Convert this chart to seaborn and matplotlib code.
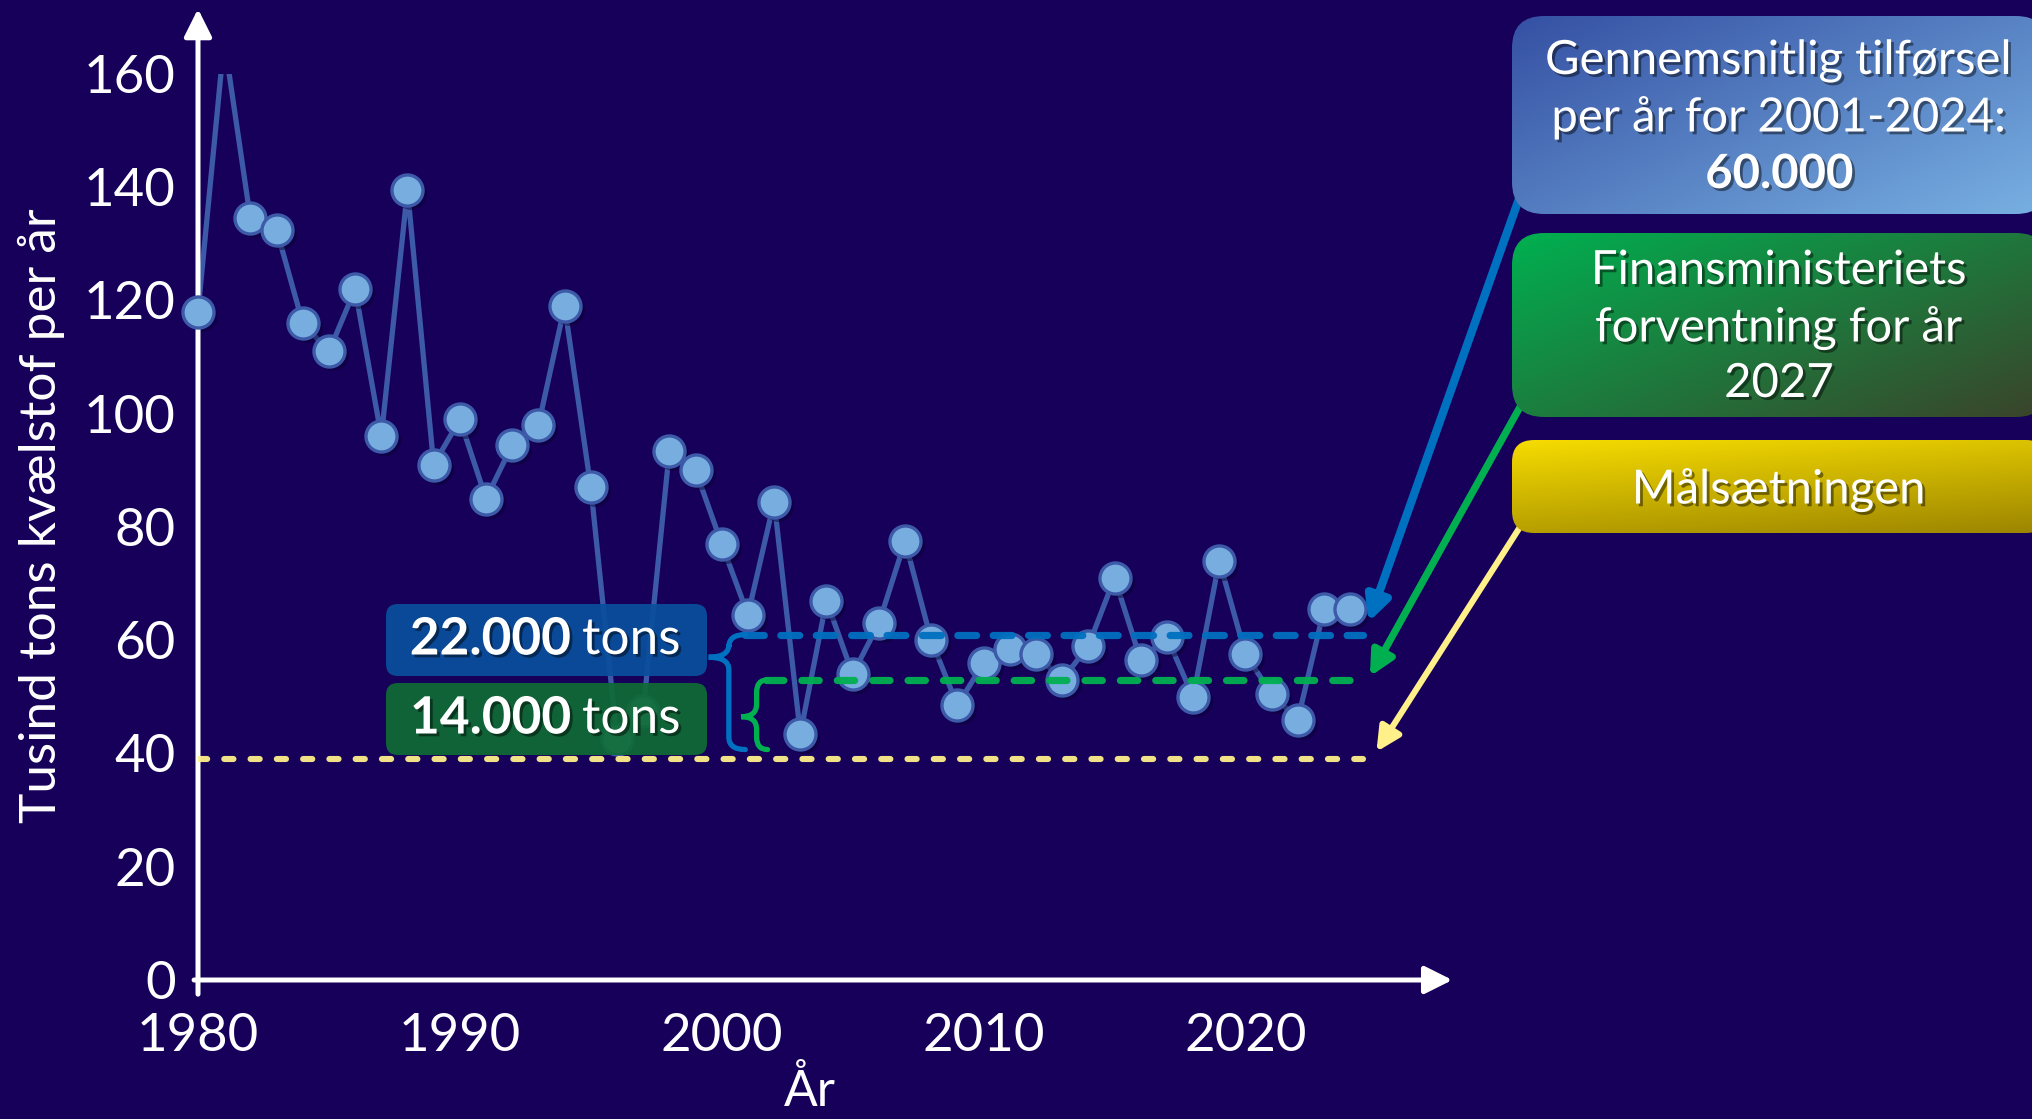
import matplotlib

matplotlib.use("Agg")

import matplotlib.patheffects as pe
import matplotlib.pyplot as plt
import numpy as np
import pandas as pd
import seaborn as sns
from matplotlib import transforms
from matplotlib.patches import FancyBboxPatch, PathPatch
from matplotlib.path import Path

# --- data ---
years = list(range(1980, 2025))
nitrogen = [
    118, 166, 134.5, 132.5, 116, 111, 122, 96, 139.5, 91,
    99, 85, 94.5, 98, 119, 87, 42.5, 47.5, 93.5, 90,
    77, 64.5, 84.5, 43.5, 67, 54, 63, 77.5, 60, 48.5,
    56, 58.5, 57.5, 53, 59, 71, 56.5, 60.5, 50, 74,
    57.5, 50.5, 46, 65.5, 65.5,
]
y_ticks = [0, 20, 40, 60, 80, 100, 120, 140, 160]
x_ticks = [1980, 1990, 2000, 2010, 2020]

level_names = ["mean", "finans", "target"]
level_values = [61, 53, 39]
gap_labels = ["22.000", "14.000"]

box_lines = [
    ["Gennemsnitlig tilførsel", "per år for 2001-2024:", "60.000"],
    ["Finansministeriets", "forventning for år", "2027"],
    ["Målsætningen"],
]

BG = "#16005a"
LINE = "#3d5aa8"
FILL = "#78addf"
BLUE = "#0070c0"
GREEN = "#00b050"
YELLOW = "#fff08a"
W, H = 2033, 1119

sns.set_theme(style="white")
plt.rcParams["font.family"] = ["Lato", "DejaVu Sans"]

df = pd.DataFrame({"year": years, "value": nitrogen})
ymax = y_ticks[-1]

fig = plt.figure(figsize=(W / 100, H / 100), dpi=100, facecolor=BG)
ax = fig.add_axes([198 / W, 1 - 980 / H, (1455 - 198) / W, (980 - 74) / H])
ax.set_facecolor(BG)

# series line (clipped at the top like the original) + markers with a soft shadow
sns.lineplot(data=df, x="year", y="value", color=LINE, lw=3.8, ax=ax, zorder=3)
shown = df[df["value"] <= ymax]
shadow = transforms.offset_copy(ax.transData, fig=fig, x=4, y=-4, units="dots")
sns.scatterplot(data=shown, x="year", y="value", s=500, color="#0a0030", alpha=0.45,
                linewidth=0, transform=shadow, clip_on=False, ax=ax, zorder=3)
sns.scatterplot(data=shown, x="year", y="value", s=500, color=FILL, edgecolor=LINE,
                linewidth=2.4, clip_on=False, ax=ax, zorder=4)

ax.set_xlim(1980, 2028)
ax.set_ylim(0, ymax)
ax.set_xticks(x_ticks)
ax.set_yticks(y_ticks)
for s in ax.spines.values():
    s.set_visible(False)
ax.tick_params(axis="both", colors="white", labelcolor="white", labelsize=38, width=3.6)
ax.tick_params(axis="x", length=13, pad=11)
ax.tick_params(axis="y", length=13, pad=3)

# axis arrows
arrow_kw = dict(arrowstyle="-|>", lw=3.6, color="white", mutation_scale=42, shrinkA=0, shrinkB=0)
ax.annotate("", xy=(2027.9, 0), xytext=(1979.85, 0), arrowprops=arrow_kw, annotation_clip=False)
ax.annotate("", xy=(1980, 171.5), xytext=(1980, -2.5), arrowprops=arrow_kw, annotation_clip=False)

ax.set_xlabel("År", fontsize=36, color="white")
ax.xaxis.set_label_coords(0.487, -0.097)
ax.set_ylabel("Tusind tons kvælstof per år", fontsize=37, color="white")
ax.yaxis.set_label_coords(-0.106, 0.513)

# reference lines
level_colors = [BLUE, GREEN, YELLOW]
level_start = [2000.9, 2001.7, 1980]
level_width = [5.2, 5.2, 4.4]
level_dash = [(0, (2.6, 2.3)), (0, (2.4, 2.5)), (0, (1.5, 2.8))]
for val, col, x0, lw, ls in zip(level_values, level_colors, level_start, level_width, level_dash):
    ax.plot([x0, 2024.5], [val, val], color=col, lw=lw, ls=ls, dash_capstyle="round",
            zorder=5, alpha=0.95)


def brace(x0, top, bottom, tip, x_tip, x_end, color):
    r = 2.2
    verts = [
        (x_end, top), (x0, top), (x0, top - r),
        (x0, tip + r), (x0, tip), (x_tip, tip),
        (x0, tip), (x0, tip - r),
        (x0, bottom + r), (x0, bottom), (x_end, bottom),
    ]
    codes = [Path.MOVETO, Path.CURVE3, Path.CURVE3,
             Path.LINETO, Path.CURVE3, Path.CURVE3,
             Path.CURVE3, Path.CURVE3,
             Path.LINETO, Path.CURVE3, Path.CURVE3]
    ax.add_patch(PathPatch(Path(verts, codes), fill=False, edgecolor=color, lw=3.8,
                           capstyle="round", zorder=5, clip_on=False))


brace(2000.27, level_values[0], 40.7, 57, 1999.5, 2000.9, BLUE)
brace(2001.33, level_values[1], 40.7, 46.5, 2000.75, 2001.75, GREEN)

# overlay in pixel coordinates for the annotation boxes
over = fig.add_axes([0, 0, 1, 1])
over.set_xlim(0, W)
over.set_ylim(H, 0)
over.axis("off")
over.patch.set_alpha(0)

shadow_fx = [pe.withSimplePatchShadow(offset=(2, -2), shadow_rgbFace="black", alpha=0.45)]


def grad_box(x0, y0, x1, y1, c_start, c_end, rounding, wu=0.55):
    patch = FancyBboxPatch((x0, y0), x1 - x0, y1 - y0,
                           boxstyle=f"round,pad=0,rounding_size={rounding}",
                           facecolor="none", edgecolor="none")
    over.add_patch(patch)
    h, w = 60, 120
    u = np.linspace(0, 1, w)[None, :]
    v = np.linspace(0, 1, h)[:, None]
    t = np.clip(wu * u + (1 - wu) * v, 0, 1)[..., None]
    a = np.array(matplotlib.colors.to_rgb(c_start))
    b = np.array(matplotlib.colors.to_rgb(c_end))
    img = a * (1 - t) + b * t
    im = over.imshow(img, extent=(x0, x1, y1, y0), origin="upper", aspect="auto",
                     interpolation="bilinear")
    im.set_clip_path(patch)


grad_box(1512, 16, 2048, 214, "#3550a3", "#78b0e2", 32)
grad_box(1512, 233, 2048, 417, "#00b050", "#3b432a", 32)
grad_box(1512, 440, 2048, 533, "#f6dc00", "#9c8500", 22, wu=0.3)
over.set_xlim(0, W)
over.set_ylim(H, 0)

box_line_y = [[61, 118, 174], [271, 328, 384], [490]]
for lines, ys in zip(box_lines, box_line_y):
    for i, (txt, yy) in enumerate(zip(lines, ys)):
        bold = lines is box_lines[0] and i == 2
        over.text(1779, yy, txt, ha="center", va="center", fontsize=34, color="white",
                  fontweight="bold" if bold else "normal", path_effects=shadow_fx)

# arrows from the boxes to the line ends
arrow_starts = [(1520, 196), (1520, 407), (1520, 527)]
arrow_ends = [(2024.7, 63.2), (2024.75, 53.6), (2025.0, 40.3)]
arrow_widths = [6, 5.2, 4.4]
for (sx, sy), (ex, ey), col, lw in zip(arrow_starts, arrow_ends, level_colors, arrow_widths):
    ax.annotate("", xy=(ex, ey), xycoords="data", xytext=(sx, sy), textcoords=over.transData,
                arrowprops=dict(arrowstyle="-|>", lw=lw, color=col, mutation_scale=36,
                                shrinkA=0, shrinkB=0),
                annotation_clip=False, zorder=6)

# gap label boxes on the left
gap_box_y = [(604, 676), (683, 755)]
gap_colors = ["#0a4f9c", "#0f6b35"]
for (y0, y1), col, lab in zip(gap_box_y, gap_colors, gap_labels):
    over.add_patch(FancyBboxPatch((386, y0), 707 - 386, y1 - y0,
                                  boxstyle="round,pad=0,rounding_size=12",
                                  facecolor=col, edgecolor="none", alpha=0.93))
    yc = (y0 + y1) / 2
    over.text(571, yc, lab, ha="right", va="center", fontsize=37, fontweight="bold",
              color="white", path_effects=shadow_fx)
    over.text(582, yc, "tons", ha="left", va="center", fontsize=37, color="white",
              path_effects=shadow_fx)

fig.savefig("out.png", dpi=100, facecolor=BG)
